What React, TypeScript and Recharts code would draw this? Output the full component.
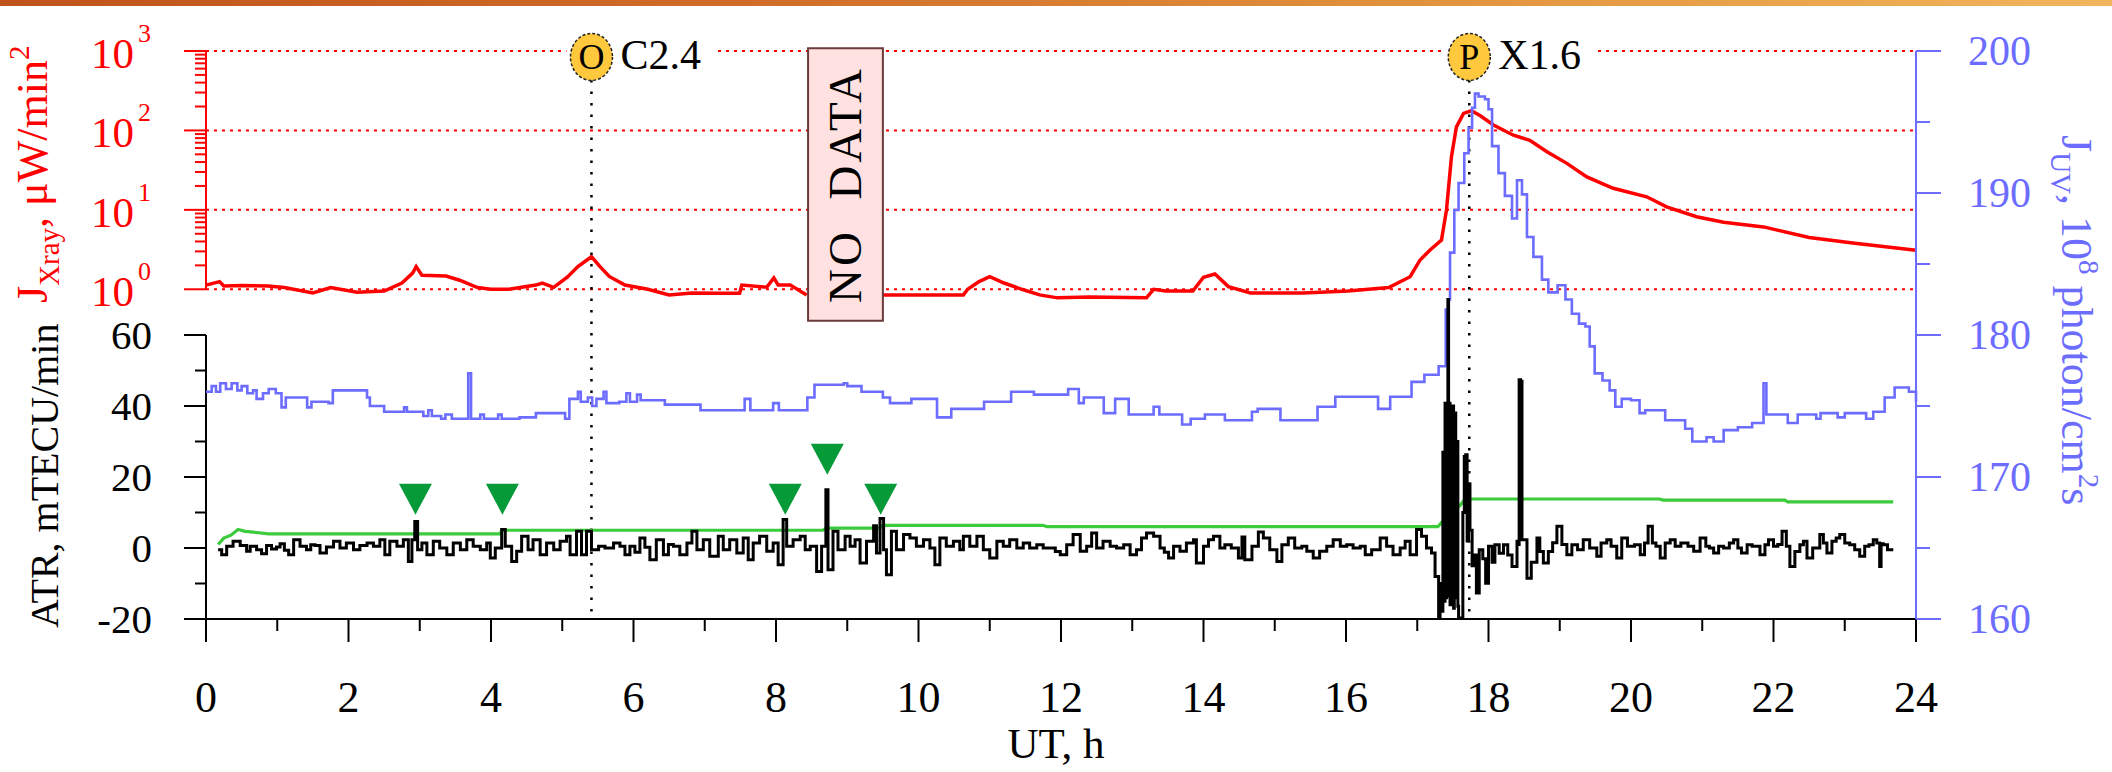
import React from "react";
import {
  ComposedChart,
  Line,
  Scatter,
  XAxis,
  YAxis,
  ReferenceLine,
  ReferenceArea,
  ReferenceDot,
} from "recharts";

const FONT = "'Liberation Serif', 'Times New Roman', serif";
const W = 2112;
const H = 772;
const RED = "#ff0000";
const BLUE = "#6c6cff";
const GREEN = "#3ccb3c";

// X-ray flux (UT hours, μW/min²), split around the data gap
const xrayBefore = [
  [0.0, 1.13], [0.19, 1.25], [0.25, 1.1], [0.5, 1.12], [0.87, 1.1], [1.1, 1.05],
  [1.5, 0.9], [1.75, 1.05], [2.12, 0.92], [2.5, 0.95], [2.75, 1.2], [2.9, 1.6],
  [2.95, 1.93], [3.03, 1.5], [3.37, 1.47], [3.56, 1.3], [3.81, 1.05], [4.0, 1.0],
  [4.25, 1.0], [4.63, 1.13], [4.72, 1.2], [4.88, 1.06], [5.07, 1.42], [5.22, 1.93],
  [5.41, 2.57], [5.53, 1.93], [5.66, 1.45], [5.88, 1.13], [6.2, 1.0], [6.5, 0.85],
  [6.82, 0.9], [7.2, 0.89], [7.49, 0.89], [7.52, 1.13], [7.87, 1.06], [7.97, 1.39],
  [8.03, 1.13], [8.2, 1.13], [8.43, 0.85],
];
const xrayAfter = [
  [9.5, 0.85], [10.16, 0.85], [10.63, 0.85], [10.69, 1.0], [10.85, 1.25], [11.0, 1.44],
  [11.2, 1.2], [11.45, 1.0], [11.7, 0.85], [11.95, 0.78], [12.4, 0.8], [13.2, 0.78],
  [13.3, 1.0], [13.47, 0.95], [13.85, 0.95], [14.0, 1.42], [14.16, 1.56], [14.35, 1.08],
  [14.66, 0.9], [15.4, 0.9], [16.03, 0.95], [16.6, 1.05], [16.9, 1.44], [17.04, 2.34],
  [17.18, 3.12], [17.34, 4.17], [17.41, 9.9], [17.48, 46.6], [17.55, 111], [17.65, 164],
  [17.76, 177], [17.88, 154], [18.07, 117], [18.35, 87], [18.58, 75], [18.82, 54],
  [19.1, 38.5], [19.38, 26], [19.75, 18.7], [20.22, 14.6], [20.5, 10.9], [20.92, 8.2],
  [21.3, 7.0], [21.86, 6.1], [22.5, 4.5], [23.14, 3.8], [24.0, 3.1],
];

// UV flux (10^8 photon/cm²s), stepped
const uv = [
  [0.0, 176.0], [0.08, 176.4], [0.14, 176.0], [0.2, 176.6], [0.28, 176.2], [0.36, 176.6],
  [0.44, 176.1], [0.5, 176.4], [0.58, 175.9], [0.66, 176.1], [0.71, 175.5], [0.8, 175.9],
  [0.88, 176.2], [0.98, 175.9], [1.06, 174.9], [1.12, 175.6], [1.42, 174.9], [1.48, 175.3],
  [1.72, 175.2], [1.78, 176.1], [2.26, 175.6], [2.3, 175.0], [2.5, 174.6], [2.78, 174.9],
  [2.82, 174.6], [3.05, 174.3], [3.12, 174.7], [3.17, 174.3], [3.3, 174.1], [3.36, 174.4],
  [3.45, 174.1], [3.68, 177.3], [3.72, 174.1], [3.85, 174.4], [3.9, 174.1], [4.1, 174.4],
  [4.15, 174.1], [4.4, 174.2], [4.63, 174.5], [5.04, 174.1], [5.1, 175.5], [5.22, 176.0],
  [5.26, 175.3], [5.36, 175.6], [5.42, 175.0], [5.48, 175.5], [5.58, 176.0], [5.62, 175.2],
  [5.8, 175.3], [5.9, 175.9], [5.95, 175.3], [6.05, 175.8], [6.1, 175.4], [6.44, 175.1],
  [6.94, 174.7], [7.56, 175.5], [7.64, 174.7], [7.96, 175.2], [8.04, 174.7], [8.44, 175.6],
  [8.54, 176.5], [8.95, 176.6], [9.0, 176.4], [9.2, 176.0], [9.5, 175.6], [9.6, 175.2],
  [9.9, 175.5], [10.26, 174.2], [10.46, 174.8], [10.92, 175.3], [11.3, 176.0], [11.62, 175.8],
  [12.1, 176.2], [12.25, 175.2], [12.32, 175.6], [12.6, 174.5], [12.76, 175.5], [12.95, 174.4],
  [13.3, 174.95], [13.38, 174.4], [13.7, 173.7], [13.82, 174.1], [14.02, 174.4], [14.3, 174.0],
  [14.68, 174.6], [14.76, 174.8], [15.08, 174.0], [15.6, 174.95], [15.85, 175.65], [16.45, 174.8],
  [16.62, 175.65], [16.92, 176.7], [17.1, 177.2], [17.3, 177.8], [17.4, 181.8], [17.44, 182.5],
  [17.46, 185.8], [17.52, 188.8], [17.58, 190.7], [17.66, 192.8], [17.72, 194.6], [17.77, 196.0],
  [17.81, 197.0], [17.86, 196.8], [17.95, 196.6], [18.0, 195.9], [18.05, 193.3], [18.14, 191.4],
  [18.23, 189.8], [18.33, 188.2], [18.4, 190.9], [18.47, 189.9], [18.54, 186.9], [18.63, 185.5],
  [18.75, 183.9], [18.84, 183.0], [18.97, 183.5], [19.08, 182.5], [19.17, 181.5], [19.27, 180.8],
  [19.36, 180.6], [19.42, 179.2], [19.49, 177.3], [19.6, 176.8], [19.7, 176.1], [19.78, 174.95],
  [19.87, 175.5], [20.0, 175.4], [20.12, 174.5], [20.2, 174.7], [20.48, 174.0], [20.76, 173.4],
  [20.86, 172.5], [21.06, 172.8], [21.16, 172.5], [21.3, 173.3], [21.5, 173.5], [21.7, 173.8],
  [21.86, 176.6], [21.9, 174.4], [22.2, 173.8], [22.34, 174.4], [22.6, 174.1], [22.66, 174.5],
  [22.9, 174.2], [23.0, 174.5], [23.3, 174.1], [23.4, 174.6], [23.56, 175.6], [23.7, 176.3],
  [23.9, 176.0], [24.0, 175.3],
];

// ATR, mTECU/min
const atr = [
  [0.17, -0.5], [0.22, -1.9], [0.29, 0.5], [0.38, 1.9], [0.48, 0.7], [0.57, -0.9], [0.62, 0.5],
  [0.71, -0.5], [0.78, -1.6], [0.85, 0.7], [0.92, -0.3], [0.99, 0.3], [1.04, 1.2], [1.1, -0.6],
  [1.16, -1.9], [1.23, 2.3], [1.32, 0.5], [1.41, -0.5], [1.47, 0.9], [1.53, 0.7], [1.6, -1.4],
  [1.69, 0.3], [1.79, 1.9], [1.88, 0], [1.97, 1.4], [2.07, -0.5], [2.16, 0.7], [2.26, 1.4],
  [2.35, 0.5], [2.44, 2.3], [2.51, -1.9], [2.58, 1.9], [2.68, 0.5], [2.77, 2.3], [2.84, -3.8],
  [2.89, 2.3], [2.93, 7.5], [2.97, -0.5], [3.03, 1.4], [3.1, -1.9], [3.19, 1.9], [3.28, 0],
  [3.38, -1.9], [3.47, 1.4], [3.57, -0.5], [3.66, 2.3], [3.75, 0.5], [3.85, -0.5], [3.94, 1.4],
  [3.99, -2.8], [4.06, 0], [4.15, 5.2], [4.2, 0.5], [4.29, -3.8], [4.36, -0.9], [4.43, 3.3],
  [4.52, -0.5], [4.59, 2.3], [4.69, -1.9], [4.78, 1.4], [4.88, -0.5], [4.97, 1.9], [5.06, 3.3],
  [5.11, -1.9], [5.2, 4.7], [5.27, -1.9], [5.34, 4.7], [5.41, -0.5], [5.51, 0.5], [5.6, 0],
  [5.72, 1.4], [5.81, 0.5], [5.88, -1.9], [5.95, 0.5], [6.02, -1.2], [6.09, 2.8], [6.16, 0.2],
  [6.23, -3.3], [6.32, 2.3], [6.42, -1.9], [6.49, 1.0], [6.56, 0.5], [6.65, -1.9], [6.75, 1.4],
  [6.82, 4.7], [6.89, -0.5], [6.98, 2.3], [7.07, -2.3], [7.19, 3.3], [7.26, -0.5], [7.35, 2.3],
  [7.45, -1.4], [7.54, 2.8], [7.61, -3.3], [7.68, 1.4], [7.77, 3.3], [7.87, -0.9], [7.96, 1.4],
  [8.03, -4.7], [8.1, 8.0], [8.15, 0.5], [8.24, 2.3], [8.34, 3.3], [8.41, -0.5], [8.48, 0.5],
  [8.57, -6.6], [8.64, 0.5], [8.7, 16.4], [8.73, -6.1], [8.8, 4.7], [8.87, -0.5], [8.97, 3.3],
  [9.04, 0.5], [9.11, 2.3], [9.18, -4.2], [9.27, 1.9], [9.37, 6.3], [9.41, -1.4], [9.46, 8.3],
  [9.51, -0.5], [9.55, -7.5], [9.62, 4.7], [9.69, -0.5], [9.79, 3.8], [9.88, 2.8], [9.97, 0.5],
  [10.07, 2.3], [10.16, 0], [10.23, -4.7], [10.3, 2.8], [10.39, 0.5], [10.49, 1.9], [10.58, -0.5],
  [10.63, 3.3], [10.72, 0.5], [10.82, 3.3], [10.91, -0.5], [11.0, -2.8], [11.1, 1.9], [11.19, 0.5],
  [11.28, 2.3], [11.38, 0], [11.47, 1.4], [11.56, 0], [11.66, 0.9], [11.75, 0], [11.85, 0],
  [11.92, -1.0], [11.99, -1.9], [12.08, 0.9], [12.17, 3.8], [12.27, -0.9], [12.36, 0.5],
  [12.43, 4.2], [12.5, 0], [12.59, 1.9], [12.69, 0.5], [12.78, 0], [12.88, 0.9], [12.97, -1.9],
  [13.06, -0.5], [13.13, 2.8], [13.2, 4.2], [13.3, 3.3], [13.39, 0], [13.45, -1.2], [13.51, -2.8],
  [13.58, 0.5], [13.67, -0.9], [13.76, 1.4], [13.86, 2.3], [13.9, -4.2], [14.0, 0.5], [14.07, 2.3],
  [14.14, 3.3], [14.23, 0], [14.3, 0.9], [14.39, 0], [14.49, -2.8], [14.54, 3.1], [14.58, -3.3],
  [14.68, 0.5], [14.77, 4.5], [14.84, 2.8], [14.93, -0.5], [15.03, -3.8], [15.1, 0.9], [15.19, 2.8],
  [15.28, 0], [15.38, 0.5], [15.45, -0.9], [15.54, -2.8], [15.63, -0.9], [15.73, 0.5], [15.82, 2.3],
  [15.92, 0.5], [16.01, 0.9], [16.1, 0], [16.2, 0.5], [16.27, -1.9], [16.36, -0.5], [16.48, 2.8],
  [16.57, 0.5], [16.66, -1.9], [16.76, 0], [16.83, 1.9], [16.9, -1.9], [16.99, 5.2], [17.06, 3.3],
  [17.13, 0], [17.2, -1.4], [17.25, -8.0], [17.3, -19.7], [17.32, -10], [17.34, -17.8], [17.36, 27],
  [17.37, -15], [17.39, 40.8], [17.4, -14], [17.41, 27], [17.42, -13.6], [17.43, 70], [17.44, -13],
  [17.45, 40.8], [17.46, -16], [17.47, 40], [17.48, -15], [17.5, 40], [17.51, -17], [17.52, 38],
  [17.54, -14], [17.55, 30], [17.57, -16.4], [17.58, -20], [17.62, -19.7], [17.64, 10], [17.66, 25.8],
  [17.68, 26.3], [17.7, 2], [17.72, 18], [17.74, 5], [17.77, -5], [17.79, -2], [17.83, -12.7],
  [17.87, -0.5], [17.92, -3], [17.96, -9.9], [18.0, 0.5], [18.05, -4], [18.09, 0.9], [18.15, -1.5],
  [18.21, 0.9], [18.27, -2], [18.33, -5.2], [18.4, 1.9], [18.42, 1.0], [18.43, 47.4], [18.45, 47],
  [18.47, 2.3], [18.54, -8.5], [18.6, -4], [18.68, 2.8], [18.72, -1], [18.77, -4.2], [18.84, -1],
  [18.9, 1.5], [18.96, 6.1], [19.03, 1], [19.1, -1.9], [19.17, 0.9], [19.25, -0.5], [19.33, 2.3],
  [19.42, 0], [19.52, -2.3], [19.58, 1.4], [19.66, 2.3], [19.72, 0.5], [19.8, -2.8], [19.87, 2.8],
  [19.95, 0.5], [20.05, 0.9], [20.13, -1.9], [20.19, 1.4], [20.24, 6.1], [20.3, 1.4], [20.35, 0.5],
  [20.41, -2.8], [20.48, 1.4], [20.55, 2.3], [20.62, 0.5], [20.7, 1.4], [20.8, 0.5], [20.88, -0.9],
  [20.97, 2.8], [21.05, 0.5], [21.1, 0], [21.16, -1.4], [21.23, 0.5], [21.3, 0], [21.38, 1.4],
  [21.44, 2.3], [21.5, 0], [21.55, -1.4], [21.63, 0.9], [21.7, 0.5], [21.81, -1.9], [21.88, 0.9],
  [21.93, 2.3], [22.0, 0.5], [22.06, 1.0], [22.12, 4.7], [22.18, 0.5], [22.23, -5.2], [22.3, -1],
  [22.37, 0.9], [22.42, 1.9], [22.47, -2.8], [22.55, 0], [22.65, 3.8], [22.7, 1.4], [22.75, -1.4],
  [22.82, 1.9], [22.88, 2.8], [22.93, 3.8], [23.0, 1.4], [23.07, 0.9], [23.14, -0.5], [23.21, -2.3],
  [23.28, 0.5], [23.34, 0.9], [23.4, 2.3], [23.45, 1.4], [23.49, -5.2], [23.51, 1.2], [23.54, 0.9],
  [23.6, -0.5], [23.66, -0.9],
];

// threshold (green)
const threshold = [
  [0.17, 1.0], [0.25, 2.8], [0.35, 3.6], [0.45, 5.2], [0.55, 4.7], [0.88, 4.0], [4.13, 4.0],
  [4.15, 5.0], [8.66, 5.0], [8.7, 5.6], [9.46, 5.6], [9.5, 6.4], [11.75, 6.4], [11.8, 6.0],
  [17.29, 6.0], [17.45, 9.5], [17.6, 12], [17.67, 13.8], [20.4, 13.8], [20.45, 13.5],
  [22.16, 13.5], [22.2, 13.0], [23.68, 13.0],
];

// detected disturbances (green triangles, tip position)
const markers = [[2.94, 9.4], [4.16, 9.4], [8.13, 9.4], [8.72, 20.6], [9.47, 9.4]];

// flares
const flares = [
  { t: 5.41, letter: "O", cls: "C2.4" },
  { t: 17.73, letter: "P", cls: "X1.6" },
];
const noData = { from: 8.45, to: 9.5 };

const hourTicks = Array.from({ length: 25 }, (_, i) => i);
const atrTicks = [-20, -10, 0, 10, 20, 30, 40, 50, 60];
const uvTicks = [160, 165, 170, 175, 180, 185, 190, 195, 200];
const xrayTicks = [
  1, 2, 3, 4, 5, 6, 7, 8, 9, 10, 20, 30, 40, 50, 60, 70, 80, 90,
  100, 200, 300, 400, 500, 600, 700, 800, 900, 1000,
];
const decades = [1, 10, 100, 1000];

const toPts = (a: number[][]) => a.map(([t, v]) => ({ t, v }));
const xrayData = [...toPts(xrayBefore), { t: 8.95, v: null }, ...toPts(xrayAfter)];

const XTick = ({ x, y, payload }: any) => {
  const v = payload.value;
  const major = v % 2 === 0;
  return (
    <g>
      <line x1={x} y1={y} x2={x} y2={y + (major ? 23 : 12)} stroke="#000" strokeWidth={2} />
      {major && (
        <text x={x} y={y + 93} textAnchor="middle" fontSize={44} fontFamily={FONT} fill="#000">
          {v}
        </text>
      )}
    </g>
  );
};

const AtrTick = ({ x, y, payload }: any) => {
  const v = payload.value;
  const major = v % 20 === 0;
  return (
    <g>
      <line x1={x - (major ? 22 : 11)} y1={y} x2={x} y2={y} stroke="#000" strokeWidth={2} />
      {major && (
        <text x={x - 54} y={y + 14} textAnchor="end" fontSize={41} fontFamily={FONT} fill="#000">
          {v}
        </text>
      )}
    </g>
  );
};

const UvTick = ({ x, y, payload }: any) => {
  const v = payload.value;
  const major = v % 10 === 0;
  return (
    <g>
      <line x1={x} y1={y} x2={x + (major ? 25 : 14)} y2={y} stroke={BLUE} strokeWidth={2} />
      {major && (
        <text x={x + 52} y={y + 14} textAnchor="start" fontSize={42} fontFamily={FONT} fill={BLUE}>
          {v}
        </text>
      )}
    </g>
  );
};

const XrayTick = ({ x, y, payload }: any) => {
  const v = payload.value;
  const major = decades.includes(v);
  return (
    <g>
      <line x1={x - (major ? 22 : 11)} y1={y} x2={x} y2={y} stroke={RED} strokeWidth={2} />
      {major && (
        <text x={x - 72} y={y + 17} textAnchor="end" fontSize={43} fontFamily={FONT} fill={RED}>
          10
          <tspan x={x - 68} dy={-26} fontSize={26} textAnchor="start">
            {Math.round(Math.log10(v))}
          </tspan>
        </text>
      )}
    </g>
  );
};

const XrayTitle = ({ viewBox }: any) => {
  const bx = viewBox.x + 47;
  const by = 303;
  return (
    <text transform={`rotate(-90 ${bx} ${by})`} x={bx} y={by} fontFamily={FONT} fontSize={44} fill={RED}>
      J<tspan fontSize={29} dy={12}>Xray</tspan>
      <tspan dy={-12}>, μW/min</tspan>
      <tspan fontSize={29} dy={-18}>2</tspan>
    </text>
  );
};

const AtrTitle = ({ viewBox }: any) => {
  const bx = viewBox.x + 58;
  const by = 628;
  return (
    <text transform={`rotate(-90 ${bx} ${by})`} x={bx} y={by} fontFamily={FONT} fontSize={40} fill="#000">
      ATR, mTECU/min
    </text>
  );
};

const UvTitle = ({ viewBox }: any) => {
  const bx = viewBox.x + 146;
  const by = 135;
  return (
    <text transform={`rotate(90 ${bx} ${by})`} x={bx} y={by} fontFamily={FONT} fontSize={44} fill={BLUE}>
      J<tspan fontSize={29} dy={11}>UV</tspan>
      <tspan dy={-11}>, 10</tspan>
      <tspan fontSize={29} dy={-17}>8</tspan>
      <tspan dy={17}>{" photon/cm"}</tspan>
      <tspan fontSize={29} dy={-17}>2</tspan>
      <tspan dy={17}>s</tspan>
    </text>
  );
};

const XTitle = ({ viewBox }: any) => (
  <text
    x={viewBox.x + viewBox.width / 2 - 5}
    y={viewBox.y + 139}
    textAnchor="middle"
    fontFamily={FONT}
    fontSize={43}
    fill="#000"
  >
    UT, h
  </text>
);

const NoDataLabel = ({ viewBox }: any) => {
  const cx = viewBox.x + viewBox.width / 2;
  const cy = viewBox.y + viewBox.height / 2;
  return (
    <text
      transform={`rotate(-90 ${cx} ${cy})`}
      x={cx}
      y={cy + 16}
      textAnchor="middle"
      fontFamily={FONT}
      fontSize={47}
      letterSpacing={3}
      fill="#000"
    >
      {"NO\u00a0\u00a0DATA"}
    </text>
  );
};

const flareMark = (letter: string, cls: string) => (props: any) => {
  const { cx, cy } = props;
  const tw = cls.length * 21;
  return (
    <g>
      <rect x={cx - 25} y={cy - 12} width={25 + 30 + tw + 10} height={24} fill="#fff" />
      <ellipse cx={cx} cy={cy} rx={21} ry={23.5} fill="#ffc83d" stroke="#222" strokeWidth={1.5} strokeDasharray="3 2" />
      <text x={cx} y={cy + 12} textAnchor="middle" fontSize={36} fontFamily={FONT} fill="#000">
        {letter}
      </text>
      <text x={cx + 29} y={cy + 12} fontSize={42} fontFamily={FONT} fill="#000">
        {cls}
      </text>
    </g>
  );
};

const Triangle = ({ cx, cy }: any) => (
  <polygon points={`${cx - 16.5},${cy - 31} ${cx + 16.5},${cy - 31} ${cx},${cy}`} fill="#079a38" />
);

export default function App() {
  return (
    <div style={{ position: "absolute", left: 0, top: 0, width: W, height: H, background: "#fff" }}>
      <div
        style={{
          position: "absolute",
          left: 0,
          top: 0,
          width: W,
          height: 6,
          background: "linear-gradient(90deg, #c0531a 0%, #d06c28 35%, #e3953e 70%, #f2b55c 100%)",
        }}
      />
      {/* upper panel: X-ray flux on log axis */}
      <div style={{ position: "absolute", left: 0, top: 0 }}>
        <ComposedChart width={W} height={H} margin={{ top: 51, right: 196, bottom: 458.8, left: 0 }}>
          <XAxis dataKey="t" type="number" domain={[0, 24]} hide />
          <YAxis
            yAxisId="xr"
            type="number"
            scale="log"
            domain={[0.5, 1000]}
            allowDataOverflow
            ticks={xrayTicks}
            interval={0}
            width={206}
            axisLine={false}
            tickLine={false}
            tickSize={0}
            tickMargin={0}
            tick={XrayTick}
            label={XrayTitle}
          />
          {decades.map((d) => (
            <ReferenceLine key={d} yAxisId="xr" y={d} stroke={RED} strokeWidth={2} strokeDasharray="3 5" />
          ))}
          <ReferenceLine
            yAxisId="xr"
            segment={[{ x: 0, y: 1 }, { x: 0, y: 1000 }]}
            stroke={RED}
            strokeWidth={2}
          />
          <Line
            yAxisId="xr"
            data={xrayData}
            dataKey="v"
            type="linear"
            stroke={RED}
            strokeWidth={3.5}
            dot={false}
            connectNulls={false}
            isAnimationActive={false}
          />
        </ComposedChart>
      </div>
      {/* lower panel: ATR + UV flux */}
      <div style={{ position: "absolute", left: 0, top: 0 }}>
        <ComposedChart width={W} height={H} margin={{ top: 51, right: 0, bottom: 0, left: 0 }}>
          <XAxis
            dataKey="t"
            type="number"
            domain={[0, 24]}
            ticks={hourTicks}
            interval={0}
            height={153}
            axisLine={{ stroke: "#000", strokeWidth: 2 }}
            tickLine={false}
            tickSize={0}
            tickMargin={0}
            tick={XTick}
            label={XTitle}
          />
          <YAxis
            yAxisId="atr"
            type="number"
            domain={[-20, 140]}
            allowDataOverflow
            ticks={atrTicks}
            interval={0}
            width={206}
            axisLine={false}
            tickLine={false}
            tickSize={0}
            tickMargin={0}
            tick={AtrTick}
            label={AtrTitle}
          />
          <YAxis
            yAxisId="uv"
            orientation="right"
            type="number"
            domain={[160, 200]}
            allowDataOverflow
            ticks={uvTicks}
            interval={0}
            width={196}
            axisLine={{ stroke: BLUE, strokeWidth: 2 }}
            tickLine={false}
            tickSize={0}
            tickMargin={0}
            tick={UvTick}
            label={UvTitle}
          />
          <ReferenceLine
            yAxisId="atr"
            segment={[{ x: 0, y: -20 }, { x: 0, y: 60 }]}
            stroke="#000"
            strokeWidth={2}
          />
          <ReferenceArea
            yAxisId="uv"
            x1={noData.from}
            x2={noData.to}
            y1={181}
            y2={200.2}
            ifOverflow="visible"
            fill="#ffe1e1"
            fillOpacity={1}
            stroke="#6b3a3a"
            strokeWidth={2}
            label={NoDataLabel}
          />
          {flares.map((f) => (
            <ReferenceLine
              key={`l${f.t}`}
              yAxisId="uv"
              segment={[{ x: f.t, y: 197.96 }, { x: f.t, y: 160 }]}
              stroke="#000"
              strokeWidth={2.5}
              strokeDasharray="2.5 9"
            />
          ))}
          <Line
            yAxisId="uv"
            data={toPts(uv)}
            dataKey="v"
            type="stepAfter"
            stroke={BLUE}
            strokeWidth={2.6}
            dot={false}
            isAnimationActive={false}
          />
          <Line
            yAxisId="atr"
            data={toPts(threshold)}
            dataKey="v"
            type="linear"
            stroke={GREEN}
            strokeWidth={3.2}
            dot={false}
            isAnimationActive={false}
          />
          <Line
            yAxisId="atr"
            data={toPts(atr)}
            dataKey="v"
            type="stepAfter"
            stroke="#000"
            strokeWidth={3}
            dot={false}
            isAnimationActive={false}
          />
          <Scatter
            yAxisId="atr"
            data={toPts(markers)}
            dataKey="v"
            shape={Triangle}
            isAnimationActive={false}
          />
          {flares.map((f) => (
            <ReferenceDot
              key={`d${f.t}`}
              yAxisId="uv"
              x={f.t}
              y={199.58}
              r={21}
              shape={flareMark(f.letter, f.cls)}
            />
          ))}
        </ComposedChart>
      </div>
    </div>
  );
}
